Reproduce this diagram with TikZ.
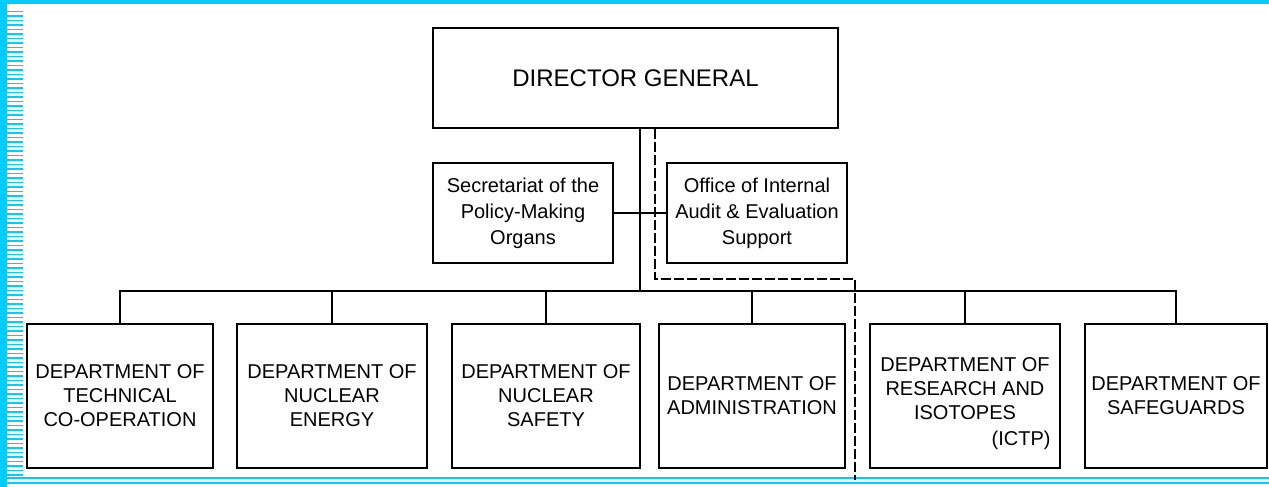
\documentclass[tikz,border=0pt]{standalone}
\usepackage{fontspec}
\setmainfont{Liberation Sans}
\usetikzlibrary{positioning}
\definecolor{framecyan}{RGB}{0,204,255}

\begin{document}
\begin{tikzpicture}[x=1pt, y=-1pt,
		box/.style={draw, line width=1.5pt, inner sep=0pt, align=center},
		headbox/.style={box, minimum width=405, minimum height=100,
			font=\fontsize{24}{28}\selectfont},
		staffbox/.style={box, minimum width=180, minimum height=100,
			font=\fontsize{20}{26}\selectfont},
		deptbox/.style={box, minimum height=144,
			font=\fontsize{20}{24}\selectfont},
		link/.style={line width=1.5pt},
		dotlink/.style={line width=1.2pt, dash pattern=on 10pt off 3pt},
		edge/.style={framecyan, line width=1.2pt}
	]
	
	\useasboundingbox (0,0) rectangle (1269,487);
	
	\fill[framecyan] (0,0) rectangle (1269,4);
	\fill[framecyan] (0,0) rectangle (7,487);
	\foreach \k in {0,...,103}
		\draw[edge] (7,11.5+4.5*\k) -- (23,11.5+4.5*\k);
	\draw[edge] (7,478) -- (1269,478);
	\draw[edge] (7,483) -- (1269,483);
	
	\node[headbox] (dg) at (635.5,78) {DIRECTOR GENERAL};
	\node[staffbox] (pmo) at (523,213) {Secretariat of the\\Policy-Making\\Organs};
	\node[staffbox] (oios) at (757,213) {Office of Internal\\Audit \& Evaluation\\Support};
	
	\node[deptbox, minimum width=186] (tc) at (120,396) {DEPARTMENT OF\\TECHNICAL\\CO-OPERATION};
	\node[deptbox, minimum width=190] (ne) at (332,396) {DEPARTMENT OF\\NUCLEAR\\ENERGY};
	\node[deptbox, minimum width=188] (ns) at (546,396) {DEPARTMENT OF\\NUCLEAR\\SAFETY};
	\node[deptbox, minimum width=186] (adm) at (752,396) {DEPARTMENT OF\\ADMINISTRATION};
	\node[deptbox, minimum width=190,
		label={[align=center, font=\fontsize{20}{24}\selectfont, yshift=7]center:DEPARTMENT OF\\RESEARCH AND\\ISOTOPES}] (ri) at (965,396) {};
	\node[deptbox, minimum width=182] (sg) at (1176,396) {DEPARTMENT OF\\SAFEGUARDS};
	\node[anchor=base east, inner sep=0pt, font=\fontsize{20}{24}\selectfont] (ictp)
		at ([xshift=-10, yshift=23]ri.south east) {(ICTP)};
	
	\coordinate (bus) at (640,291);
	\coordinate (bend) at (855,279);
	\coordinate (sepend) at (855,480);
	
	\draw[link] ([xshift=4.5]dg.south) -- ([xshift=4.5]dg.south |- bus);
	\draw[link] (pmo.east) -- (oios.west);
	\draw[link] (tc.north) |- (bus) -| (sg.north);
	\foreach \d in {ne,ns,adm,ri}
		\draw[link] (\d.north) -- (\d.north |- bus);
	\draw[dotlink] ([xshift=19.5]dg.south) |- (bend) -- (sepend);
\end{tikzpicture}
\end{document}
